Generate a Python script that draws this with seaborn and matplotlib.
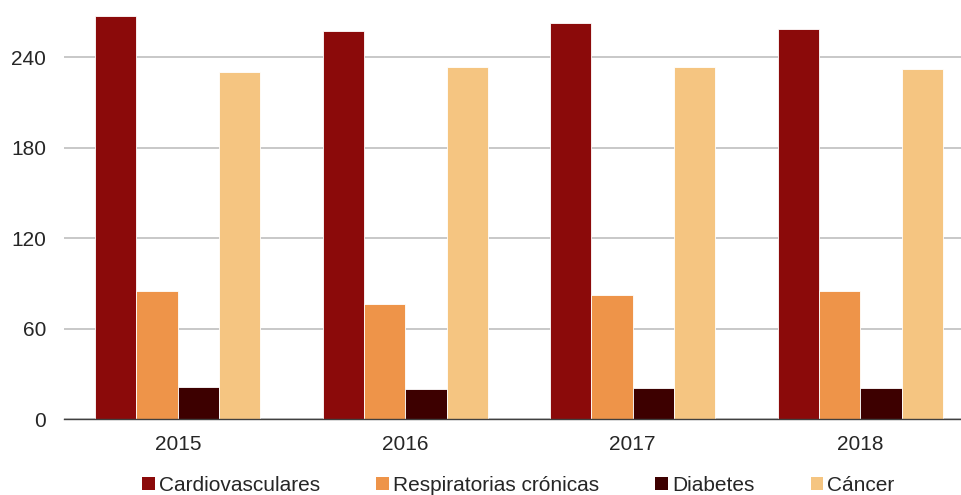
import matplotlib
matplotlib.use("Agg")
import matplotlib.pyplot as plt
import seaborn as sns
import pandas as pd
from matplotlib.ticker import FixedLocator

years = ["2015", "2016", "2017", "2018"]
causes = ["Cardiovasculares", "Respiratorias crónicas", "Diabetes", "Cáncer"]
cardiovasculares = [267.5, 257.4, 262.3, 258.3]
respiratorias = [85.0, 76.4, 82.4, 84.9]
diabetes = [21.2, 19.9, 20.5, 20.5]
cancer = [230.2, 233.5, 233.3, 231.8]
colors = ["#8B0A0A", "#EE9449", "#3D0000", "#F5C581"]

series = [cardiovasculares, respiratorias, diabetes, cancer]
rows = []
for cause, vals in zip(causes, series):
    for y, v in zip(years, vals):
        rows.append({"year": y, "cause": cause, "value": v})
df = pd.DataFrame(rows)

sns.set_theme(style="white")
plt.rcParams["font.family"] = ["Liberation Sans", "DejaVu Sans"]

W, H = 962, 495
fig = plt.figure(figsize=(W / 100, H / 100), dpi=100)
ax = fig.add_axes([64 / W, (H - 419.3) / H, 910 / W, 419.3 / H])

sns.barplot(data=df, x="year", y="value", hue="cause", hue_order=causes,
            order=years, palette=colors, width=0.727, gap=0,
            edgecolor="white", linewidth=0.6, saturation=1, ax=ax, errorbar=None)

handles, labels = ax.get_legend_handles_labels()
if ax.get_legend() is not None:
    ax.get_legend().remove()
for h in handles:
    h.set_edgecolor("none")

ax.set_xlim(-0.5, 3.5)
ax.set_ylim(0, 277.8)
ax.set_yticks([0, 60, 120, 180, 240])
ax.yaxis.grid(True, color="#BFBFBF", linewidth=1.2)
ax.set_axisbelow(True)
ax.set_xlabel("")
ax.set_ylabel("")
for s in ["left", "right", "top"]:
    ax.spines[s].set_visible(False)
ax.spines["bottom"].set_color("#404040")
ax.spines["bottom"].set_linewidth(1.0)

ax.tick_params(axis="y", length=0, pad=13, labelsize=15, labelcolor="#262626")
ax.tick_params(axis="x", which="major", length=0, pad=11, labelsize=15, labelcolor="#262626")
ax.xaxis.set_minor_locator(FixedLocator([-0.5, 0.5, 1.5, 2.5, 3.5]))
ax.tick_params(axis="x", which="minor", length=5, width=1.0, color="#404040", direction="out")

fig.legend(handles, labels, loc="center", bbox_to_anchor=(518.5 / W, 1 - 485.5 / H),
           ncol=4, frameon=False, fontsize=15, handlelength=0.6, handleheight=0.6,
           handletextpad=0.2, columnspacing=2.7, borderaxespad=0, borderpad=0,
           labelcolor="#262626")

fig.savefig("out.png", dpi=100)
